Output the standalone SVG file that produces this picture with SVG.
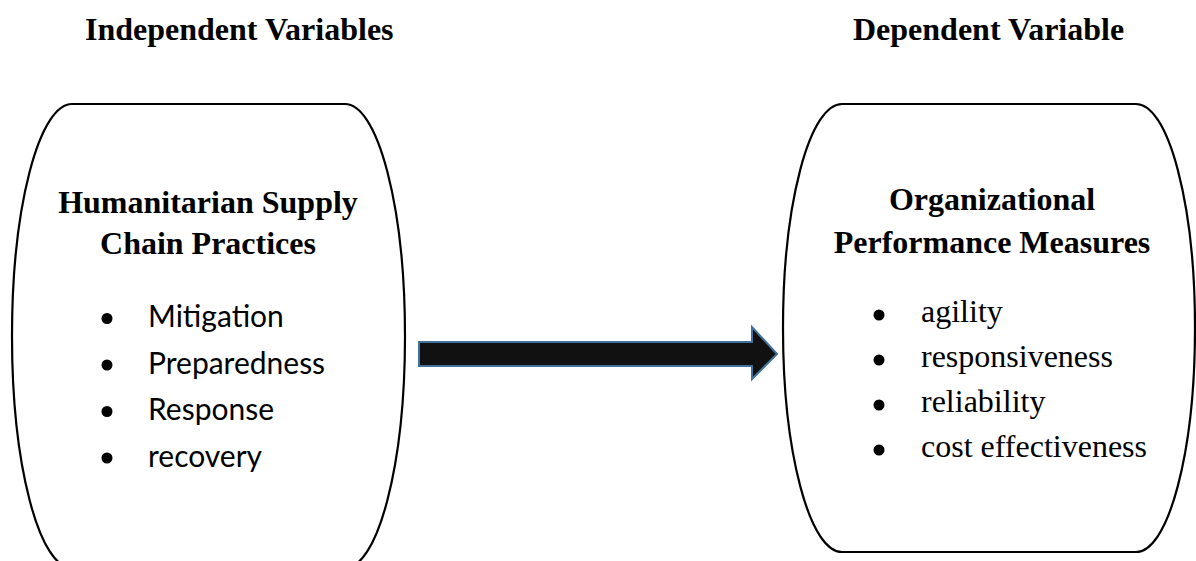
<svg xmlns="http://www.w3.org/2000/svg" width="1196" height="561" viewBox="0 0 1196 561">
<style>
.title{font-family:"Liberation Serif","Times New Roman",serif;font-weight:bold;font-size:32px;fill:#000}
.head{font-family:"Liberation Serif","Times New Roman",serif;font-weight:bold;font-size:32px;fill:#000;text-anchor:middle}
.sans{font-family:Lato,"Liberation Sans",sans-serif;font-size:30px;fill:#000}
.serif{font-family:"Liberation Serif","Times New Roman",serif;font-size:32px;fill:#000}
.shape{fill:#fff;stroke:#000;stroke-width:2.2}
.dot{fill:#000}
</style>
<rect width="1196" height="561" fill="#fff"/>
<text class="title" x="85" y="40">Independent Variables</text>
<text class="title" x="853" y="40">Dependent Variable</text>
<g id="independent">
<rect class="shape" x="12" y="104" width="393" height="464" rx="60" ry="232"/>
<text class="head" x="208" y="213">Humanitarian Supply</text>
<text class="head" x="208" y="254">Chain Practices</text>
<circle class="dot" cx="107" cy="318.5" r="5.5"/>
<circle class="dot" cx="107" cy="365" r="5.5"/>
<circle class="dot" cx="107" cy="411.5" r="5.5"/>
<circle class="dot" cx="107" cy="458" r="5.5"/>
<text class="sans" x="148" y="327">Mitigation</text>
<text class="sans" x="148" y="373.5">Preparedness</text>
<text class="sans" x="148" y="420">Response</text>
<text class="sans" x="148" y="466.5">recovery</text>
</g>
<g id="dependent">
<rect class="shape" x="783" y="104" width="412" height="448" rx="59" ry="224"/>
<text class="head" x="992" y="210">Organizational</text>
<text class="head" x="992" y="253">Performance Measures</text>
<circle class="dot" cx="879" cy="315" r="5.5"/>
<circle class="dot" cx="879" cy="360" r="5.5"/>
<circle class="dot" cx="879" cy="405" r="5.5"/>
<circle class="dot" cx="879" cy="450" r="5.5"/>
<text class="serif" x="921" y="322">agility</text>
<text class="serif" x="921" y="367">responsiveness</text>
<text class="serif" x="921" y="412">reliability</text>
<text class="serif" x="921" y="457">cost effectiveness</text>
</g>
<g id="connectors">
<path d="M419,342 L752,342 L752,327 L777,354 L752,379 L752,366 L419,366 Z" fill="#111" stroke="#41719c" stroke-width="2"/>
</g>
</svg>
